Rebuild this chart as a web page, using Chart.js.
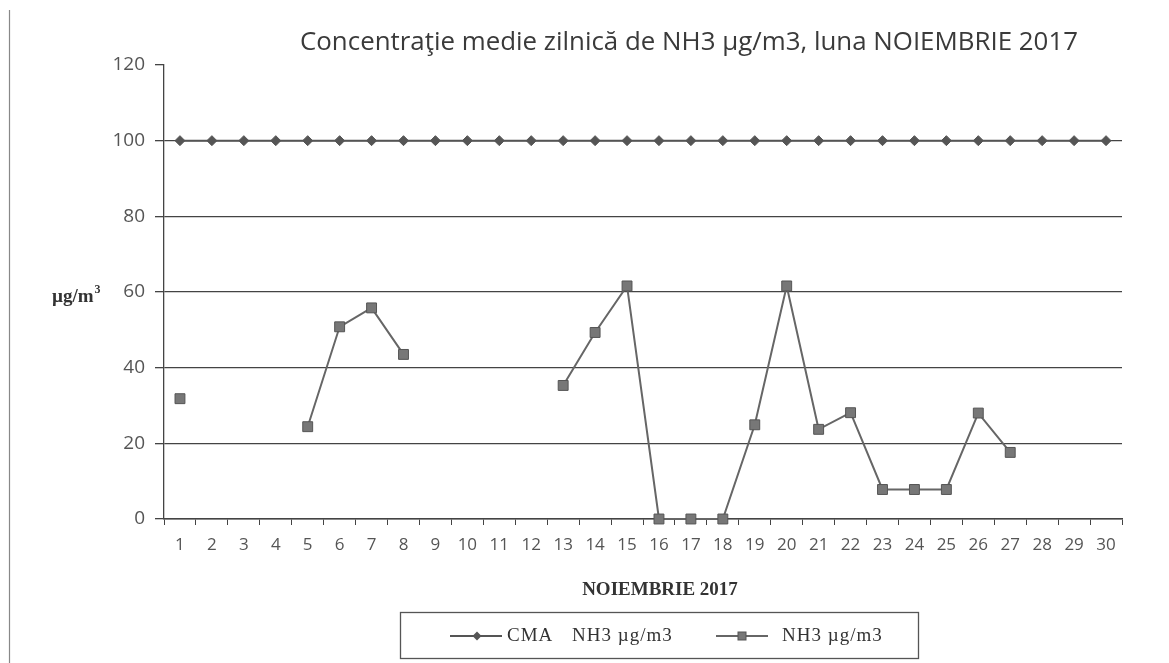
<!DOCTYPE html>
<html>
<head>
<meta charset="utf-8">
<script src="https://cdn.jsdelivr.net/npm/chart.js@4.4.1/dist/chart.umd.min.js"></script>
<style>
  html, body { margin: 0; padding: 0; background: #ffffff; }
  #wrap { position: relative; width: 1169px; height: 663px; }
  canvas { display: block; }
</style>
</head>
<body>
<div id="wrap"><canvas id="c" width="1169" height="663"></canvas></div>
<script>
// ---- data ----
const days = ['1','2','3','4','5','6','7','8','9','10','11','12','13','14','15','16','17','18','19','20','21','22','23','24','25','26','27','28','29','30'];
const cmaValues = [100,100,100,100,100,100,100,100,100,100,100,100,100,100,100,100,100,100,100,100,100,100,100,100,100,100,100,100,100,100];
const nh3Values = [31.8,null,null,null,24.4,50.8,55.8,43.5,null,null,null,null,35.3,49.3,61.6,0,0,0,24.9,61.6,23.7,28.1,7.8,7.8,7.8,28.0,17.6,null,null,null];
const yTicks = [0,20,40,60,80,100,120];
const seriesNames = ['CMA', 'NH3 \u00b5g/m3'];
const cmaLabelTail = 'NH3 \u00b5g/m3';
const titleText = 'Concentra\u0163ie medie zilnic\u0103 de NH3 \u00b5g/m3, luna NOIEMBRIE 2017';
const xTitle = 'NOIEMBRIE 2017';
const yTitle = '\u00b5g/m';

function drawDiamond(ctx, x, y, r, fill) {
  ctx.beginPath();
  ctx.moveTo(x, y - r); ctx.lineTo(x + r, y); ctx.lineTo(x, y + r); ctx.lineTo(x - r, y); ctx.closePath();
  ctx.fillStyle = fill; ctx.fill();
}
function drawSquare(ctx, x, y, s, fill, stroke) {
  ctx.fillStyle = fill; ctx.fillRect(x - s/2, y - s/2, s, s);
  ctx.strokeStyle = stroke; ctx.lineWidth = 1; ctx.strokeRect(x - s/2, y - s/2, s, s);
}

const decor = {
  id: 'decor',
  afterDraw(chart) {
    const ctx = chart.ctx;
    ctx.save();
    // scan border on the left
    ctx.strokeStyle = '#888'; ctx.lineWidth = 1.2;
    ctx.beginPath(); ctx.moveTo(9.5, 10); ctx.lineTo(9.5, 663); ctx.stroke();
    // title
    ctx.fillStyle = '#3a3a3a';
    ctx.font = '26px "Open Sans", "Noto Sans", sans-serif';
    ctx.textAlign = 'center'; ctx.textBaseline = 'middle';
    ctx.fillText(titleText, 689, 43, 778);
    // y axis label (horizontal)
    ctx.font = 'bold 19px "Liberation Serif", "DejaVu Serif", serif';
    ctx.textAlign = 'left'; ctx.fillStyle = '#333';
    ctx.fillText(yTitle, 52, 297);
    const w = ctx.measureText(yTitle).width;
    ctx.font = 'bold 12px "Liberation Serif", serif';
    ctx.fillText('3', 52 + w + 1, 290);
    // x axis title
    ctx.font = 'bold 19px "Liberation Serif", "DejaVu Serif", serif';
    ctx.textAlign = 'center';
    ctx.fillText(xTitle, 660, 590, 178);
    // legend box
    ctx.strokeStyle = '#555'; ctx.lineWidth = 1.3;
    ctx.strokeRect(400.5, 612.5, 518, 46);
    const ly = 636;
    // CMA entry
    ctx.strokeStyle = '#555'; ctx.lineWidth = 2;
    ctx.beginPath(); ctx.moveTo(450, ly); ctx.lineTo(502, ly); ctx.stroke();
    drawDiamond(ctx, 477, ly, 4.5, '#555');
    ctx.fillStyle = '#333';
    ctx.font = '19px "Liberation Serif", "DejaVu Serif", serif';
    ctx.textAlign = 'left';
    ctx.letterSpacing = '1px';
    ctx.fillText(seriesNames[0], 507, ly);
    ctx.fillText(cmaLabelTail, 572, ly);
    // NH3 entry
    ctx.strokeStyle = '#666'; ctx.lineWidth = 2;
    ctx.beginPath(); ctx.moveTo(716, ly); ctx.lineTo(768, ly); ctx.stroke();
    drawSquare(ctx, 742, ly, 8, '#777', '#555');
    ctx.fillStyle = '#333';
    ctx.fillText(seriesNames[1], 782, ly);
    ctx.restore();
  }
};

new Chart(document.getElementById('c'), {
  type: 'line',
  data: {
    labels: days,
    datasets: [
      {
        label: 'CMA ' + cmaLabelTail,
        data: cmaValues,
        borderColor: '#555',
        borderWidth: 2,
        pointStyle: 'rectRot',
        pointRadius: 5,
        pointBackgroundColor: '#555',
        pointBorderColor: '#555',
        pointBorderWidth: 1,
        tension: 0,
        clip: false
      },
      {
        label: seriesNames[1],
        data: nh3Values,
        borderColor: '#666',
        borderWidth: 2,
        pointStyle: 'rect',
        pointRadius: 7,
        pointBackgroundColor: '#777',
        pointBorderColor: '#555',
        pointBorderWidth: 1,
        spanGaps: false,
        tension: 0,
        clip: false
      }
    ]
  },
  options: {
    responsive: false,
    animation: false,
    devicePixelRatio: 1,
    layout: { padding: { top: 65, right: 47, bottom: 0, left: 0 } },
    plugins: {
      legend: { display: false },
      title: { display: false },
      tooltip: { enabled: false }
    },
    scales: {
      x: {
        type: 'category',
        offset: true,
        grid: {
          offset: true,
          drawOnChartArea: false,
          drawTicks: true,
          tickLength: 6,
          tickColor: '#444',
          lineWidth: 1
        },
        border: { color: '#444', width: 1.5 },
        ticks: {
          autoSkip: false,
          maxRotation: 0,
          padding: 10,
          color: '#555',
          font: { family: '"Open Sans", "Noto Sans", sans-serif', size: 17 }
        },
        afterFit(s) { s.height = 144; }
      },
      y: {
        min: 0,
        max: 120,
        afterBuildTicks(s) { s.ticks = yTicks.map(v => ({ value: v })); },
        grid: {
          color: (c) => (c.tick && c.tick.value === 120) ? 'rgba(0,0,0,0)' : '#444',
          lineWidth: 1.3,
          tickColor: '#444',
          tickLength: 9
        },
        border: { color: '#444', width: 1.3 },
        ticks: {
          padding: 10,
          color: '#555',
          font: { family: '"Open Sans", "Noto Sans", sans-serif', size: 19 }
        },
        afterFit(s) { s.width = 164; }
      }
    }
  },
  plugins: [decor]
});
</script>
</body>
</html>
